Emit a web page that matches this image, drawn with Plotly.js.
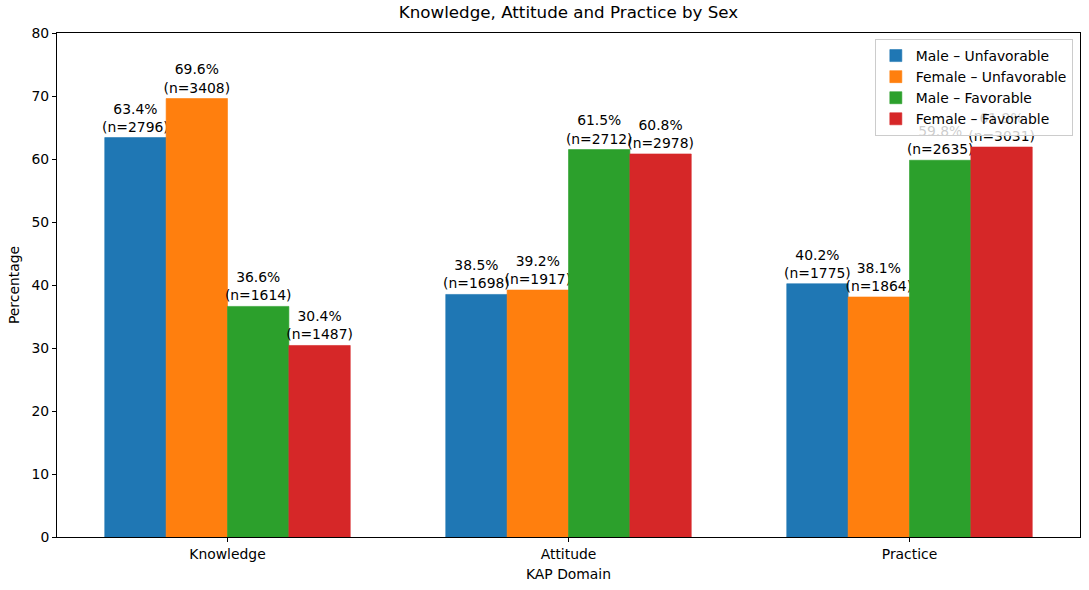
<!DOCTYPE html>
<html>
<head>
<meta charset="utf-8">
<script src="https://cdn.plot.ly/plotly-3.0.1.min.js"></script>
<style>html,body{margin:0;padding:0;background:#fff;}#chart{width:1089px;height:590px;}</style>
</head>
<body>
<div id="chart"></div>
<script>
const domains = ["Knowledge", "Attitude", "Practice"];
const seriesNames = ["Male – Unfavorable", "Female – Unfavorable", "Male – Favorable", "Female – Favorable"];
const maleUnfavPct = [63.4, 38.5, 40.2];
const maleUnfavN = [2796, 1698, 1775];
const femaleUnfavPct = [69.6, 39.2, 38.1];
const femaleUnfavN = [3408, 1917, 1864];
const maleFavPct = [36.6, 61.5, 59.8];
const maleFavN = [1614, 2712, 2635];
const femaleFavPct = [30.4, 60.8, 61.9];
const femaleFavN = [1487, 2978, 3031];
const colors = ["#1f77b4", "#ff7f0e", "#2ca02c", "#d62728"];

const pcts = [maleUnfavPct, femaleUnfavPct, maleFavPct, femaleFavPct];
const ns = [maleUnfavN, femaleUnfavN, maleFavN, femaleFavN];

const font = "DejaVu Sans, sans-serif";
const fs = 13.9;
const traces = seriesNames.map((name, i) => ({
  type: "bar",
  name: name,
  x: domains,
  y: pcts[i],
  marker: {color: colors[i], line: {width: 0.6, color: colors[i]}},
  text: pcts[i].map((v, j) => v.toFixed(1) + "%<br>(n=" + ns[i][j] + ")"),
  textposition: "outside",
  constraintext: "none",
  cliponaxis: false,
  textfont: {family: font, size: fs, color: "#000"},
  hoverinfo: "x+y+name"
}));

const layout = {
  width: 1089, height: 590,
  margin: {l: 57, r: 9, t: 33, b: 53},
  paper_bgcolor: "#fff", plot_bgcolor: "#fff",
  font: {family: font, size: fs, color: "#000"},
  barmode: "group",
  bargap: 0.28,
  bargroupgap: 0,
  title: {text: "Knowledge, Attitude and Practice by Sex", font: {family: font, size: 16.7, color: "#000"}, x: 0.5, xanchor: "center", xref: "paper", y: 0.98, yanchor: "middle"},
  xaxis: {
    title: {text: "KAP Domain", font: {family: font, size: fs}, standoff: 8},
    range: [-0.5, 2.5],
    showline: true, linecolor: "#000", linewidth: 1, mirror: true,
    ticks: "outside", ticklen: 4, tickcolor: "#000",
    tickfont: {family: font, size: fs},
    showgrid: false, zeroline: false
  },
  yaxis: {
    title: {text: "Percentage", font: {family: font, size: fs}, standoff: 8},
    range: [0, 80], dtick: 10,
    showline: true, linecolor: "#000", linewidth: 1, mirror: true,
    ticks: "outside", ticklen: 4, tickcolor: "#000",
    tickfont: {family: font, size: fs},
    showgrid: false, zeroline: false
  },
  legend: {
    x: 0.993, y: 0.988, xanchor: "right", yanchor: "top",
    bgcolor: "rgba(255,255,255,0.8)", bordercolor: "#cccccc", borderwidth: 1,
    font: {family: font, size: fs},
    tracegroupgap: 0, itemwidth: 30
  },
  showlegend: true
};

Plotly.newPlot("chart", traces, layout, {displayModeBar: false, staticPlot: true});
</script>
</body>
</html>
